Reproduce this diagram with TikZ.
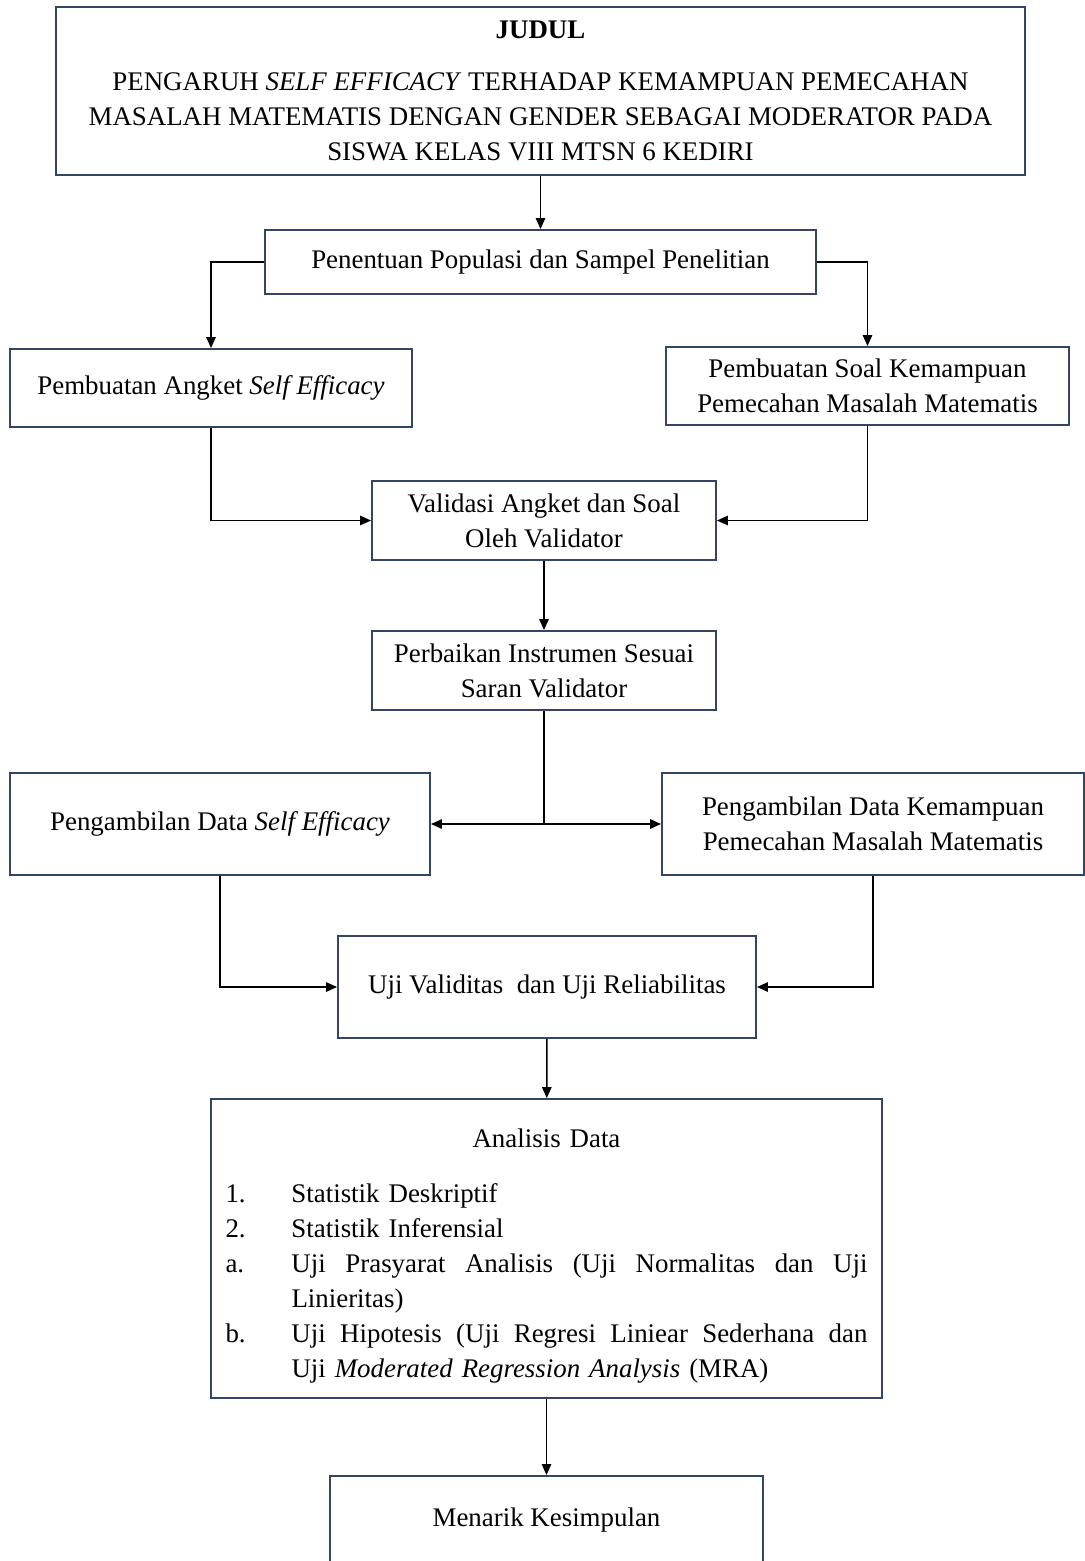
\documentclass[tikz,border=0pt]{standalone}
\usepackage{xcolor}
\usepackage{fontspec}
\setmainfont{Liberation Serif}
\usepackage{tikz}
\usetikzlibrary{arrows.meta}
\usetikzlibrary{positioning}
\definecolor{boxline}{RGB}{52,68,100}
\tikzset{
    box/.style = {rectangle, draw=boxline, line width=1.1pt, align=center, inner sep=2pt},
    arr/.style = {-{Triangle[length=0.22cm,width=0.19cm]}, line width=0.8pt, black},
    lin/.style = {-, line width=0.8pt, black},
}

\begin{document}
\begin{tikzpicture}[
	font=\fontsize{15.3}{19.9}\selectfont
]
\useasboundingbox (0,0) rectangle (21.7,-31.22);
\node[box, minimum width=19.38cm, minimum height=3.36cm] at (10.81,-1.82) (judul)
    {\textbf{JUDUL}\\[0.34cm]
     PENGARUH \textit{SELF EFFICACY} TERHADAP KEMAMPUAN PEMECAHAN\\
     MASALAH MATEMATIS DENGAN GENDER SEBAGAI MODERATOR PADA\\
     SISWA KELAS VIII MTSN 6 KEDIRI};
\node[box, minimum width=11.02cm, minimum height=1.28cm] at (10.81,-5.24) (populasi)
    {Penentuan Populasi dan Sampel Penelitian};
\node[box, minimum width=8.04cm, minimum height=1.56cm] at (4.22,-7.76) (angket)
    {Pembuatan Angket \textit{Self Efficacy}};
\node[box, minimum width=8.06cm, minimum height=1.56cm] at (17.35,-7.72) (soal)
    {Pembuatan Soal Kemampuan\\ Pemecahan Masalah Matematis};
\node[box, minimum width=6.88cm, minimum height=1.58cm] at (10.88,-10.41) (validasi)
    {Validasi Angket dan Soal\\ Oleh Validator};
\node[box, minimum width=6.88cm, minimum height=1.58cm] at (10.88,-13.41) (perbaikan)
    {Perbaikan Instrumen Sesuai\\ Saran Validator};
\node[box, minimum width=8.4cm, minimum height=2.04cm] at (4.40,-16.48) (ambilse)
    {Pengambilan Data \textit{Self Efficacy}};
\node[box, minimum width=8.44cm, minimum height=2.04cm] at (17.46,-16.48) (ambilkm)
    {Pengambilan Data Kemampuan\\ Pemecahan Masalah Matematis};
\node[box, minimum width=8.36cm, minimum height=2.04cm] at (10.94,-19.74) (uji)
    {Uji Validitas \ dan Uji Reliabilitas};
\node[box, minimum width=13.42cm, minimum height=5.98cm, text width=12.84cm, align=left] at (10.93,-24.97) (analisis)
    {\makebox[12.84cm]{\rule{0pt}{0.69cm}Analisis Data}\\[0.4cm]
     \makebox[1.32cm][l]{1.}Statistik Deskriptif\\
     \makebox[1.32cm][l]{2.}Statistik Inferensial\\
     \makebox[1.32cm][l]{a.}\makebox[11.52cm][l]{Uji\hfill Prasyarat\hfill Analisis\hfill (Uji\hfill Normalitas\hfill dan\hfill Uji}\\
     \hspace*{1.32cm}Linieritas)\\
     \makebox[1.32cm][l]{b.}\makebox[11.52cm][l]{Uji\hfill Hipotesis\hfill (Uji\hfill Regresi\hfill Liniear\hfill Sederhana\hfill dan}\\
     \hspace*{1.32cm}Uji \textit{Moderated Regression Analysis} (MRA)};
\node[box, minimum width=8.66cm, minimum height=1.76cm] at (10.93,-30.40) (kesimpulan)
    {Menarik Kesimpulan};
%
\draw[arr] (judul) -- (populasi);
\draw[arr] (populasi.west) -| (angket.north);
\draw[arr] (populasi.east) -| (soal.north);
%
\draw[arr] (angket.south) |- (validasi.west);
\draw[arr] (soal.south) |- (validasi.east);
\draw[arr] (validasi) -- (perbaikan);
%
\coordinate (pisah) at (perbaikan.south |- ambilse.east);
\draw[lin] (perbaikan.south) -- (pisah);
\draw[arr] (pisah) -- (ambilse.east);
\draw[arr] (pisah) -- (ambilkm.west);
%
\draw[arr] (ambilse.south) |- (uji.west);
\draw[arr] (ambilkm.south) |- (uji.east);
\draw[arr] (uji) -- (analisis);
\draw[arr] (analisis) -- (kesimpulan);
\end{tikzpicture}
\end{document}
